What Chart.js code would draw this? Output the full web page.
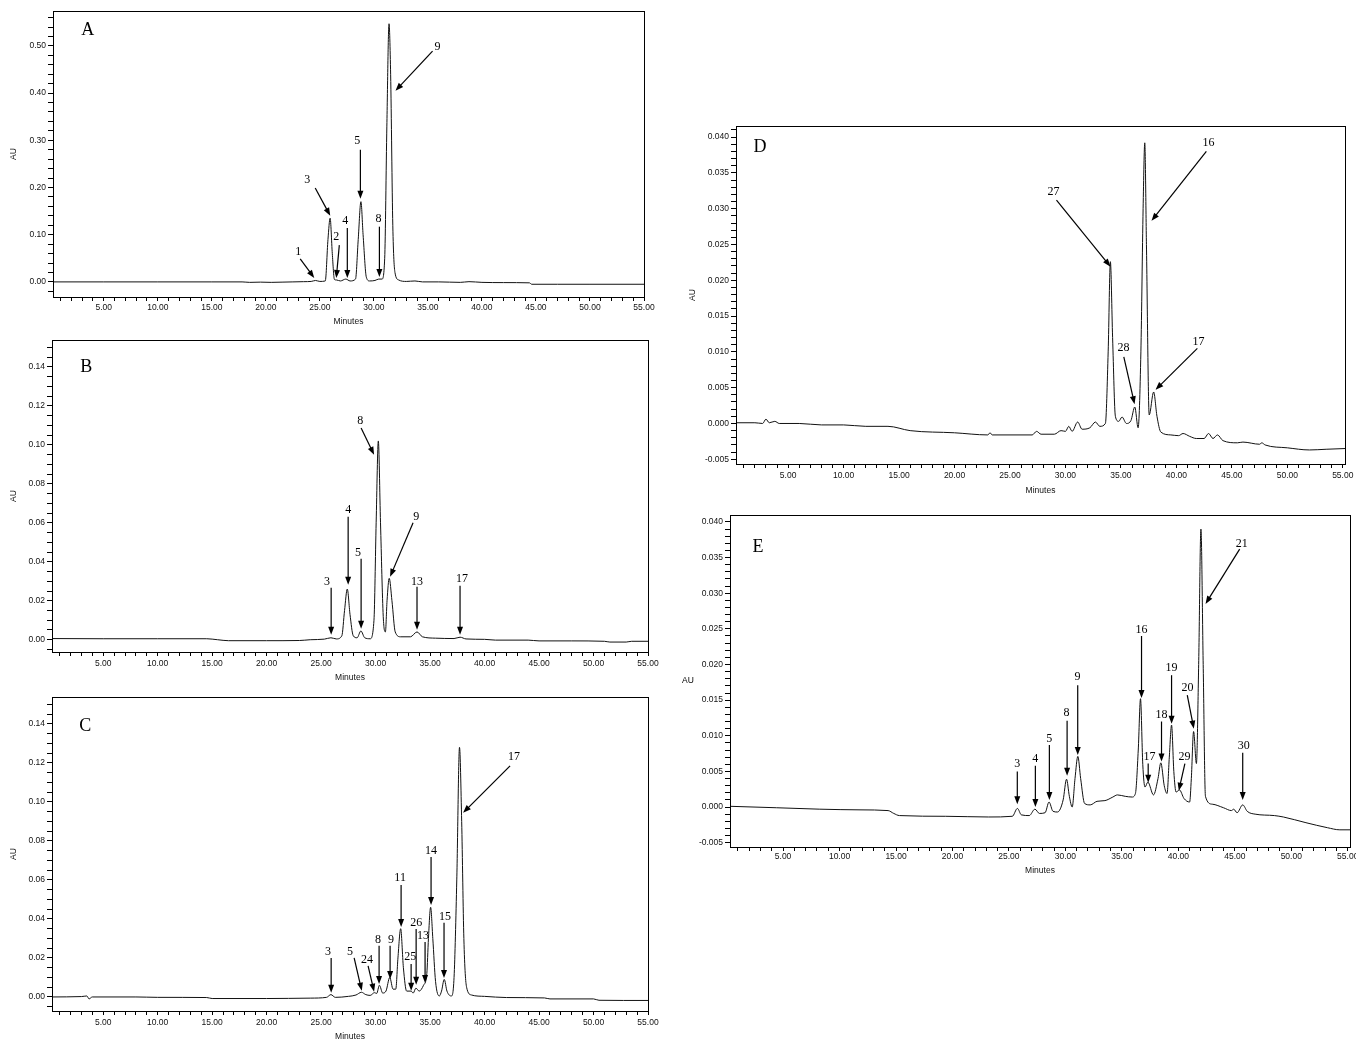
<!DOCTYPE html>
<html>
<head>
<meta charset="utf-8">
<script src="https://cdn.jsdelivr.net/npm/chart.js@4.4.1/dist/chart.umd.min.js"></script>
<style>
html, body { margin: 0; padding: 0; background: #fff; overflow: hidden; width: 1356px; height: 1040px; }
canvas { position: absolute; }
</style>
</head>
<body>
<canvas id="chartA"></canvas>
<canvas id="chartB"></canvas>
<canvas id="chartC"></canvas>
<canvas id="chartD"></canvas>
<canvas id="chartE"></canvas>
<script>
// retention time (min) and absorbance (AU)
const timeA = [0.3, 5, 10, 15, 17.8, 18.5, 19.5, 20.5, 21.5, 22.5, 23.5, 24.2, 24.6, 25.0, 25.5, 25.75, 25.95, 26.15, 26.35, 26.55, 26.9, 27.4, 27.8, 28.3, 28.55, 28.8, 29.0, 29.3, 29.6, 30.1, 30.45, 30.75, 31.0, 31.2, 31.4, 31.55, 31.75, 31.95, 32.3, 33.0, 33.8, 34.5, 36, 38, 38.8, 40, 42, 44.4, 44.6, 47, 50, 55];
const auA = [0, 0, 0, 0, 0, -0.001, -0.0005, -0.001, -0.0005, 0, 0.0005, 0.001, 0.003, 0.001, 0.002, 0.09, 0.135, 0.06, 0.005, 0.004, 0.002, 0.006, 0.002, 0.006, 0.09, 0.170, 0.10, 0.01, 0.002, 0.003, 0.006, 0.006, 0.05, 0.33, 0.547, 0.44, 0.12, 0.02, 0.004, 0.001, 0.002, 0, 0, -0.001, 0.0005, -0.001, -0.0015, -0.002, -0.005, -0.005, -0.005, -0.005];

const timeB = [0.3, 5, 10, 14.5, 15.5, 16.5, 20, 23, 24, 25.3, 25.9, 26.4, 26.9, 27.15, 27.4, 27.65, 27.95, 28.3, 28.65, 29.0, 29.5, 29.85, 30.05, 30.25, 30.45, 30.7, 30.9, 31.05, 31.25, 31.5, 31.8, 32.3, 33.2, 33.8, 34.3, 35.5, 37.2, 37.75, 38.3, 40, 41, 44, 45, 48, 51, 51.5, 53, 53.5, 55];
const auB = [0.0006, 0.0005, 0.0005, 0.0005, 0, -0.0005, -0.0005, -0.0004, 0, 0.0003, 0.001, 0.0004, 0.002, 0.015, 0.026, 0.013, 0.002, 0.001, 0.0045, 0.001, 0.0005, 0.01, 0.06, 0.102, 0.06, 0.012, 0.004, 0.02, 0.0315, 0.02, 0.004, 0.0015, 0.0015, 0.004, 0.0015, 0.0008, 0.0006, 0.0013, 0.0004, 0.0002, -0.0002, -0.0002, -0.0006, -0.0006, -0.0008, -0.0012, -0.0012, -0.0008, -0.0008];

const timeC = [0.3, 3.0, 3.5, 3.7, 4.0, 8, 10, 14.5, 15, 20, 24, 25.5, 25.9, 26.3, 27.5, 28.2, 28.7, 29.1, 29.5, 29.9, 30.1, 30.35, 30.65, 30.95, 31.3, 31.6, 31.85, 32.05, 32.3, 32.55, 32.85, 33.25, 33.45, 33.7, 34.0, 34.4, 34.7, 34.85, 35.05, 35.25, 35.5, 35.85, 36.05, 36.3, 36.55, 36.95, 37.2, 37.45, 37.7, 37.9, 38.1, 38.35, 38.8, 40, 42, 45.5, 46, 50, 50.5, 55];
const auC = [0, 0.0002, 0.0005, -0.001, 0, 0, -0.0002, -0.0003, -0.0008, -0.0008, -0.0006, -0.0002, 0.0012, -0.0002, 0.0003, 0.001, 0.0024, 0.0012, 0.0008, 0.0022, 0.0018, 0.006, 0.002, 0.003, 0.010, 0.004, 0.004, 0.02, 0.035, 0.015, 0.003, 0.003, 0.002, 0.0045, 0.003, 0.006, 0.012, 0.03, 0.046, 0.03, 0.008, 0.0005, 0.003, 0.009, 0.003, 0.0005, 0.01, 0.06, 0.128, 0.09, 0.03, 0.005, 0.001, 0.0003, -0.0003, -0.0005, -0.001, -0.001, -0.0017, -0.0018];

const timeD = [0.3, 2.0, 2.7, 3.0, 3.3, 3.8, 4.2, 6, 8, 10, 12, 14, 16, 20, 23, 23.2, 23.4, 27, 27.4, 27.8, 29, 29.6, 30.0, 30.3, 30.6, 31.1, 31.5, 32.2, 32.7, 33.1, 33.6, 33.85, 34.05, 34.25, 34.5, 34.8, 35.1, 35.5, 35.9, 36.25, 36.55, 36.8, 37.0, 37.15, 37.3, 37.55, 37.95, 38.25, 38.6, 39.5, 40.2, 40.6, 41.2, 41.8, 42.5, 42.9, 43.3, 43.7, 44.2, 45.5, 46, 47.5, 47.7, 48, 50, 52, 53.5, 55.2];
const auD = [0.0001, 0.0001, 0, 0.0006, 0.0001, 0.0003, 0, 0, -0.0002, -0.0002, -0.0004, -0.0004, -0.001, -0.0013, -0.0016, -0.0013, -0.0016, -0.0016, -0.0011, -0.0015, -0.0015, -0.001, -0.0011, -0.0004, -0.0011, 0.0002, -0.0008, -0.0006, 0.0002, -0.0004, 0, 0.01, 0.0226, 0.012, 0.001, 0.0003, 0.0009, 0, 0.0004, 0.0023, -0.0006, 0.01, 0.03, 0.0392, 0.025, 0.0012, 0.0044, 0.001, -0.0012, -0.0016, -0.0017, -0.0014, -0.0018, -0.0021, -0.0021, -0.0014, -0.0021, -0.0016, -0.0024, -0.0027, -0.0026, -0.0029, -0.0027, -0.003, -0.0034, -0.0037, -0.0036, -0.0035];

const timeE = [0.3, 4.4, 8.2, 11.9, 14.3, 14.8, 15.3, 19.4, 23.2, 25.3, 25.75, 26.1, 26.8, 27.3, 27.7, 28.2, 28.55, 28.9, 29.3, 29.8, 30.1, 30.35, 30.6, 30.85, 31.1, 31.35, 31.7, 32.2, 32.8, 33.5, 34.2, 34.6, 35.3, 35.9, 36.2, 36.45, 36.65, 36.85, 37.05, 37.3, 37.8, 38.2, 38.45, 38.75, 39.0, 39.2, 39.4, 39.6, 39.8, 40.1, 40.5, 41.0, 41.15, 41.35, 41.6, 41.8, 42.0, 42.2, 42.4, 43, 44.0, 44.7, 44.9, 45.2, 45.7, 46.1, 46.8, 48.5, 49.3, 51.3, 53.2, 54.3, 55.2];
const auE = [0.0001, -0.0001, -0.0003, -0.0004, -0.0005, -0.0009, -0.0012, -0.0013, -0.0014, -0.0013, -0.0002, -0.0011, -0.0012, -0.0003, -0.0009, -0.0008, 0.0007, -0.0006, -0.0007, 0.001, 0.0039, 0.0015, 0, 0.004, 0.0071, 0.004, 0.0005, 0.0003, 0.0008, 0.0009, 0.0014, 0.0017, 0.0015, 0.0014, 0.0019, 0.008, 0.0152, 0.006, 0.0028, 0.0035, 0.0017, 0.004, 0.0062, 0.003, 0.0019, 0.007, 0.0115, 0.005, 0.0021, 0.0024, 0.0012, 0.0007, 0.004, 0.0106, 0.0061, 0.02, 0.039, 0.02, 0.0015, 0.0004, -0.0001, -0.0005, -0.0003, -0.0008, 0.0003, -0.0006, -0.001, -0.0012, -0.0014, -0.0022, -0.0029, -0.0032, -0.0032];

// peak labels: text centre, arrow tail and arrow tip, in (min, AU)
const notesA = [
  { text: '1', at: [23.0, 0.064], from: [23.18, 0.049], to: [24.48, 0.0085] },
  { text: '3', at: [23.84, 0.216], from: [24.57, 0.199], to: [25.96, 0.140] },
  { text: '2', at: [26.52, 0.095], from: [26.8, 0.078], to: [26.52, 0.0085] },
  { text: '4', at: [27.36, 0.129], from: [27.54, 0.114], to: [27.54, 0.0085] },
  { text: '5', at: [28.47, 0.299], from: [28.75, 0.280], to: [28.75, 0.176] },
  { text: '8', at: [30.42, 0.133], from: [30.51, 0.117], to: [30.51, 0.0106] },
  { text: '9', at: [35.89, 0.498], from: [35.43, 0.489], to: [32.0, 0.405] }
];
const notesB = [
  { text: '3', at: [25.55, 0.0297], from: [25.92, 0.0267], to: [25.92, 0.0026] },
  { text: '4', at: [27.48, 0.0667], from: [27.48, 0.0631], to: [27.48, 0.0282] },
  { text: '5', at: [28.39, 0.0446], from: [28.67, 0.0415], to: [28.67, 0.0056] },
  { text: '8', at: [28.58, 0.1123], from: [28.67, 0.1087], to: [29.86, 0.0949] },
  { text: '9', at: [33.72, 0.0631], from: [33.44, 0.060], to: [31.33, 0.0323] },
  { text: '13', at: [33.8, 0.0297], from: [33.8, 0.0272], to: [33.8, 0.0051] },
  { text: '17', at: [37.94, 0.0313], from: [37.75, 0.0277], to: [37.75, 0.0026] }
];
const notesC = [
  { text: '3', at: [25.64, 0.0231], from: [25.92, 0.020], to: [25.92, 0.0021] },
  { text: '5', at: [27.66, 0.0231], from: [28.03, 0.020], to: [28.73, 0.0032] },
  { text: '24', at: [29.22, 0.019], from: [29.31, 0.0159], to: [29.86, 0.0027] },
  { text: '8', at: [30.23, 0.0292], from: [30.32, 0.0262], to: [30.32, 0.0067] },
  { text: '9', at: [31.42, 0.0292], from: [31.33, 0.0262], to: [31.33, 0.0092] },
  { text: '11', at: [32.25, 0.061], from: [32.34, 0.0574], to: [32.34, 0.0359] },
  { text: '25', at: [33.17, 0.0205], from: [33.26, 0.0169], to: [33.26, 0.0032] },
  { text: '26', at: [33.72, 0.0379], from: [33.72, 0.0349], to: [33.72, 0.0062] },
  { text: '13', at: [34.36, 0.0313], from: [34.54, 0.0282], to: [34.54, 0.0072] },
  { text: '14', at: [35.09, 0.0749], from: [35.09, 0.0718], to: [35.09, 0.0472] },
  { text: '15', at: [36.38, 0.041], from: [36.28, 0.038], to: [36.28, 0.0097] },
  { text: '17', at: [42.7, 0.123], from: [42.34, 0.1185], to: [38.03, 0.0944] }
];
const notesD = [
  { text: '27', at: [28.92, 0.0323], from: [29.19, 0.0312], to: [34.06, 0.0219] },
  { text: '16', at: [42.9, 0.0392], from: [42.7, 0.038], to: [37.76, 0.0283] },
  { text: '28', at: [35.23, 0.0105], from: [35.26, 0.0093], to: [36.23, 0.0027] },
  { text: '17', at: [42.0, 0.0114], from: [41.89, 0.0105], to: [38.12, 0.0047] }
];
const notesE = [
  { text: '3', at: [25.74, 0.006], from: [25.74, 0.005], to: [25.74, 0.0004] },
  { text: '4', at: [27.34, 0.0067], from: [27.34, 0.0058], to: [27.34, 0.0000] },
  { text: '5', at: [28.58, 0.0095], from: [28.58, 0.0087], to: [28.58, 0.001] },
  { text: '8', at: [30.09, 0.0132], from: [30.15, 0.0121], to: [30.15, 0.0044] },
  { text: '9', at: [31.06, 0.0182], from: [31.09, 0.0171], to: [31.09, 0.0073] },
  { text: '16', at: [36.74, 0.0248], from: [36.74, 0.024], to: [36.74, 0.0153] },
  { text: '17', at: [37.45, 0.007], from: [37.33, 0.0061], to: [37.33, 0.0034] },
  { text: '18', at: [38.51, 0.0129], from: [38.51, 0.012], to: [38.51, 0.0064] },
  { text: '19', at: [39.4, 0.0195], from: [39.4, 0.0185], to: [39.4, 0.0117] },
  { text: '20', at: [40.82, 0.0167], from: [40.79, 0.0157], to: [41.37, 0.011] },
  { text: '29', at: [40.55, 0.007], from: [40.58, 0.0061], to: [40.04, 0.0023] },
  { text: '21', at: [45.61, 0.037], from: [45.43, 0.0362], to: [42.41, 0.0285] },
  { text: '30', at: [45.79, 0.0086], from: [45.7, 0.0076], to: [45.7, 0.001] }
];

// page layout of each panel (plot box in px: left, top, right, bottom)
const panels = [
  { id: 'chartA', time: timeA, au: auA, notes: notesA, letter: 'A', letterAt: [3.52, 0.534],
    box: [53, 11, 644, 297], canvasLeft: 0, x: [0.3, 55], y: [-0.032, 0.574], yStep: 0.02, yMajor: 0.1, digits: 2,
    tickY: 308, minutesY: 322, auPad: 9 },
  { id: 'chartB', time: timeB, au: auB, notes: notesB, letter: 'B', letterAt: [3.44, 0.14],
    box: [52, 340, 648, 652], canvasLeft: 0, x: [0.3, 55], y: [-0.0063, 0.1538], yStep: 0.005, yMajor: 0.02, digits: 2,
    tickY: 664, minutesY: 678, auPad: 9 },
  { id: 'chartC', time: timeC, au: auC, notes: notesC, letter: 'C', letterAt: [3.35, 0.139],
    box: [52, 697, 648, 1011], canvasLeft: 0, x: [0.3, 55], y: [-0.0072, 0.1538], yStep: 0.005, yMajor: 0.02, digits: 2,
    tickY: 1023, minutesY: 1037, auPad: 9 },
  { id: 'chartD', time: timeD, au: auD, notes: notesD, letter: 'D', letterAt: [2.47, 0.0386],
    box: [736, 126, 1345, 464], canvasLeft: 680, x: [0.3, 55.2], y: [-0.00566, 0.04155], yStep: 0.001, yMajor: 0.005, digits: 3,
    tickY: 476, minutesY: 491, auPad: 8 },
  { id: 'chartE', time: timeE, au: auE, notes: notesE, letter: 'E', letterAt: [2.78, 0.0365],
    box: [730, 515, 1350, 847], canvasLeft: 680, x: [0.3, 55.2], y: [-0.00561, 0.04098], yStep: 0.001, yMajor: 0.005, digits: 3,
    tickY: 857, minutesY: 871, auFlat: 0.0178 }
];

const SANS = '"Liberation Sans", Arial, sans-serif';
const SERIF = '"Liberation Serif", "Times New Roman", serif';
const PT = 8, PR = 14, XH = 40, TL = 4;

function majorLabel(major, digits) {
  return (v) => Math.abs(v / major - Math.round(v / major)) < 1e-6 ? v.toFixed(digits) : '';
}

function arrow(ctx, x1, y1, x2, y2) {
  const a = Math.atan2(y2 - y1, x2 - x1);
  const len = 8, half = 3;
  const c = Math.cos(a), s = Math.sin(a);
  ctx.beginPath();
  ctx.moveTo(x1, y1);
  ctx.lineTo(x2 - c * len * 0.7, y2 - s * len * 0.7);
  ctx.stroke();
  ctx.beginPath();
  ctx.moveTo(x2, y2);
  ctx.lineTo(x2 - c * len + s * half, y2 - s * len - c * half);
  ctx.lineTo(x2 - c * len - s * half, y2 - s * len + c * half);
  ctx.closePath();
  ctx.fill();
}

// frame, panel letter, peak arrows and labels
const decor = {
  id: 'decor',
  afterDraw(chart, args, opts) {
    const { ctx, chartArea: a } = chart;
    const xs = chart.scales.x, ys = chart.scales.y;
    ctx.save();
    ctx.strokeStyle = '#000';
    ctx.fillStyle = '#000';
    ctx.lineWidth = 1;
    ctx.strokeRect(Math.round(a.left) + 0.5, Math.round(a.top) + 0.5, Math.round(a.right - a.left), Math.round(a.bottom - a.top));

    ctx.textAlign = 'center';
    ctx.textBaseline = 'middle';
    ctx.font = '18px ' + SERIF;
    ctx.fillText(opts.letter, xs.getPixelForValue(opts.letterAt[0]), ys.getPixelForValue(opts.letterAt[1]));

    ctx.font = '12px ' + SERIF;
    ctx.lineWidth = 1.2;
    opts.notes.forEach(n => {
      ctx.fillText(n.text, xs.getPixelForValue(n.at[0]), ys.getPixelForValue(n.at[1]));
      arrow(ctx, xs.getPixelForValue(n.from[0]), ys.getPixelForValue(n.from[1]),
        xs.getPixelForValue(n.to[0]), ys.getPixelForValue(n.to[1]));
    });

    if (opts.auFlat !== undefined) {
      ctx.font = '8.5px ' + SANS;
      ctx.fillText('AU', ys.left + 8, ys.getPixelForValue(opts.auFlat));
    }
    ctx.restore();
  }
};

panels.forEach(p => {
  const [L, T, R, B] = p.box;
  const canvas = document.getElementById(p.id);
  const w = R - p.canvasLeft + PR;
  const h = B - T + PT + XH;
  canvas.width = w;
  canvas.height = h;
  canvas.style.left = p.canvasLeft + 'px';
  canvas.style.top = (T - PT) + 'px';
  canvas.style.width = w + 'px';
  canvas.style.height = h + 'px';
  const yw = L - p.canvasLeft;

  new Chart(canvas, {
    type: 'line',
    data: {
      datasets: [{
        data: p.time.map((t, i) => ({ x: t, y: p.au[i] })),
        borderColor: '#111',
        borderWidth: 1,
        pointRadius: 0,
        cubicInterpolationMode: 'monotone',
        fill: false
      }]
    },
    options: {
      responsive: false,
      animation: false,
      events: [],
      layout: { padding: { left: 0, top: PT, right: PR, bottom: 0 } },
      plugins: {
        legend: { display: false },
        tooltip: { enabled: false },
        decor: { letter: p.letter, letterAt: p.letterAt, notes: p.notes, auFlat: p.auFlat }
      },
      scales: {
        x: {
          type: 'linear',
          min: p.x[0], max: p.x[1],
          afterFit: s => { s.height = XH; },
          border: { display: true, color: '#000', width: 1 },
          grid: { display: true, drawOnChartArea: false, drawTicks: true, tickLength: TL, color: '#000' },
          ticks: {
            stepSize: 1, includeBounds: false, autoSkip: false, maxRotation: 0,
            padding: p.tickY - B - TL - 5.1,
            color: '#111', font: { family: SANS, size: 8.5 },
            callback: majorLabel(5, 2)
          },
          title: {
            display: true, text: 'Minutes', color: '#111',
            font: { family: SANS, size: 8.5 },
            padding: { top: 0, bottom: B + XH - 5.1 - p.minutesY }
          }
        },
        y: {
          type: 'linear',
          min: p.y[0], max: p.y[1],
          afterFit: s => { s.width = yw; },
          border: { display: true, color: '#000', width: 1 },
          grid: { display: true, drawOnChartArea: false, drawTicks: true, tickLength: 5, color: '#000' },
          ticks: {
            stepSize: p.yStep, includeBounds: false, autoSkip: false,
            padding: 2, color: '#111', font: { family: SANS, size: 8.5 },
            callback: majorLabel(p.yMajor, p.digits)
          },
          title: {
            display: p.auFlat === undefined, text: 'AU', color: '#111',
            font: { family: SANS, size: 8.5 },
            padding: { top: p.auPad || 0, bottom: 0 }
          }
        }
      }
    },
    plugins: [decor]
  });
});
</script>
</body>
</html>
